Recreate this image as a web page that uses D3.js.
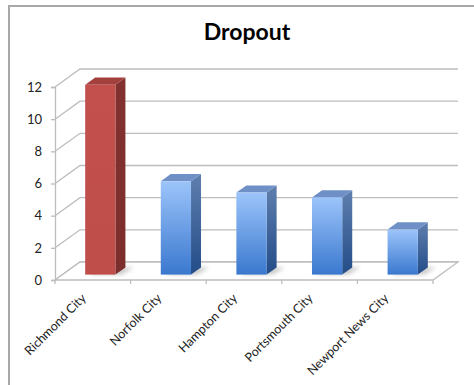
<!DOCTYPE html>
<html>
<head>
<meta charset="utf-8">
<script src="https://cdn.jsdelivr.net/npm/d3@7"></script>
<style>
  html, body { margin: 0; padding: 0; background: #fff; }
  svg { display: block; }
</style>
</head>
<body>
<svg id="chart" width="474" height="385"></svg>
<script>
// Dropout rate by city
const cities = ["Richmond City", "Norfolk City", "Hampton City", "Portsmouth City", "Newport News City"];
const dropout = [11.8, 5.8, 5.1, 4.8, 2.8];
const yTicks = [0, 2, 4, 6, 8, 10, 12];
const title = "Dropout";

const svg = d3.select("#chart");
const W = 474, H = 385;

// Frame of the chart area
svg.append("path")
  .attr("d", `M9,${H} L9,6 L${W},6`)
  .attr("fill", "none")
  .attr("stroke", "#a8a8a8")
  .attr("stroke-width", 2);

svg.append("text")
  .attr("x", 247).attr("y", 40)
  .attr("text-anchor", "middle")
  .attr("font-family", "Lato, 'Open Sans', sans-serif")
  .attr("font-weight", "bold")
  .attr("font-size", 23)
  .attr("fill", "#000")
  .text(title);

// Front plane geometry and depth offset of the 3D box
const x0 = 55, x1 = 433;
const x = d3.scaleBand().domain(cities).range([x0, x1]).paddingInner(0).paddingOuter(0);
const y = d3.scaleLinear().domain([0, 12]).range([280, 87]);
const depth = { dx: 25, dy: -18 };
const off = f => [depth.dx * f, depth.dy * f];

const gridColor = "#bdbdbd";
const defs = svg.append("defs");

// Back wall gridlines with diagonal side-wall returns
const grid = svg.append("g");
yTicks.forEach(t => {
  const yy = y(t);
  grid.append("path")
    .attr("d", `M${x0},${yy} L${x0 + depth.dx},${yy + depth.dy} L${x1 + depth.dx},${yy + depth.dy}`)
    .attr("fill", "none").attr("stroke", gridColor).attr("stroke-width", 1.3);
});

// Floor
grid.append("path")
  .attr("d", `M${x0},${y(0)} L${x1},${y(0)} L${x1 + depth.dx},${y(0) + depth.dy} L${x0 + depth.dx},${y(0) + depth.dy} Z`)
  .attr("fill", "#fff").attr("stroke", gridColor).attr("stroke-width", 1.3);

// Vertical axis
const yAxis = d3.axisLeft(y).tickValues(yTicks).tickSize(4).tickPadding(9);
const gy = svg.append("g").attr("transform", `translate(${x0},0)`).call(yAxis);
gy.select(".domain").attr("stroke", gridColor).attr("stroke-width", 1.3);
gy.selectAll(".tick line").attr("stroke", gridColor).attr("stroke-width", 1.3);
gy.selectAll("text")
  .attr("font-family", "Lato, 'Open Sans', sans-serif")
  .attr("font-size", 13).attr("fill", "#222");

// Horizontal axis: category boundary ticks along the floor front edge
const gx = svg.append("g");
const bounds = cities.map(c => x(c)).concat([x1]);
gx.selectAll("line.tk").data(bounds).join("line")
  .attr("x1", d => d).attr("x2", d => d)
  .attr("y1", y(0)).attr("y2", y(0) + 4)
  .attr("stroke", gridColor).attr("stroke-width", 1.3);
gx.selectAll("text").data(cities).join("text")
  .attr("transform", d => `translate(${x(d) + x.bandwidth() / 2 - 6},${y(0) + 19}) rotate(-45)`)
  .attr("text-anchor", "end")
  .attr("font-family", "Lato, 'Open Sans', sans-serif")
  .attr("font-size", 12.5).attr("fill", "#222")
  .text(d => d);

// Gradients for the bar faces
function vGrad(id, top, bottom) {
  const g = defs.append("linearGradient").attr("id", id)
    .attr("x1", 0).attr("y1", 0).attr("x2", 0).attr("y2", 1);
  g.append("stop").attr("offset", "0%").attr("stop-color", top);
  g.append("stop").attr("offset", "100%").attr("stop-color", bottom);
}
vGrad("blueFront", "#9cc4fa", "#3a78cf");
vGrad("blueSide", "#5f7fae", "#234c88");
vGrad("redFront", "#c3504d", "#bf4d4a");
vGrad("redSide", "#823130", "#7c2e2c");
defs.append("filter").attr("id", "soft")
  .attr("x", "-50%").attr("y", "-50%").attr("width", "200%").attr("height", "200%")
  .append("feGaussianBlur").attr("stdDeviation", 2.2);

const styles = [
  { front: "url(#redFront)", side: "url(#redSide)", top: "#a3403d" },
  { front: "url(#blueFront)", side: "url(#blueSide)", top: "#6f90c6" }
];

// Bars sit in the middle of the depth, from 30% to 70% of it
const f0 = 0.3, f1 = 0.7;
const barFrac = 0.4;
const bars = svg.append("g");
cities.forEach((c, i) => {
  const st = i === 0 ? styles[0] : styles[1];
  const bw = x.bandwidth() * barFrac;
  const cx = x(c) + x.bandwidth() / 2;
  const [ax, ay] = off(f0);
  const [bx, by] = off(f1);
  const L = cx - bw / 2 + ax, R = cx + bw / 2 + ax;
  const base = y(0) + ay, top = y(dropout[i]) + ay;
  const sdx = bx - ax, sdy = by - ay;

  // floor shadow
  bars.append("path")
    .attr("d", `M${L + 4},${base} L${R + 6},${base} L${R + sdx + 8},${base + sdy} L${L + sdx + 4},${base + sdy} Z`)
    .attr("fill", "#9a9a9a").attr("opacity", 0.55).attr("filter", "url(#soft)");

  // side face
  bars.append("path")
    .attr("d", `M${R},${top} L${R + sdx},${top + sdy} L${R + sdx},${base + sdy} L${R},${base} Z`)
    .attr("fill", st.side);
  // top face
  bars.append("path")
    .attr("d", `M${L},${top} L${R},${top} L${R + sdx},${top + sdy} L${L + sdx},${top + sdy} Z`)
    .attr("fill", st.top);
  // front face
  bars.append("rect")
    .attr("x", L).attr("y", top).attr("width", bw).attr("height", base - top)
    .attr("fill", st.front);
});
</script>
</body>
</html>
